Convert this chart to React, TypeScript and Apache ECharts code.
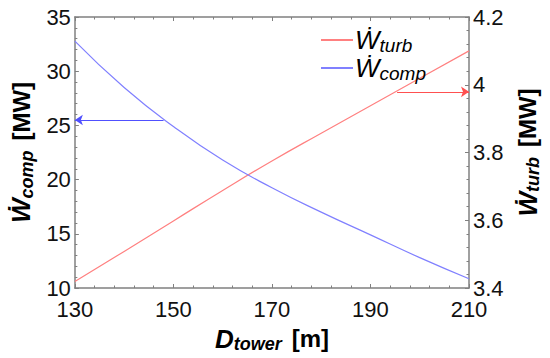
import React, { useEffect, useRef } from "react";
import * as echarts from "echarts";

const xValues = [130, 140, 150, 160, 170, 180, 190, 200, 210];
const wComp = [32.78, 28.5, 24.9, 21.8, 19.25, 17.0, 14.9, 12.8, 10.85];
const wTurb = [3.419, 3.508, 3.598, 3.688, 3.775, 3.857, 3.938, 4.019, 4.1];
const xTicks = { min: 130, max: 210, interval: 20 };
const leftTicks = { min: 10, max: 35, interval: 5 };
const rightTicks = { min: 3.4, max: 4.2, interval: 0.2 };
const compArrow = [[148, 25.5], [130, 25.5]];
const turbArrow = [[195.4, 3.979], [210, 3.979]];

const FONT = "'Liberation Sans', Arial, 'DejaVu Sans', sans-serif";
const AXIS_COLOR = "#808080";

const titleRich = {
  w: { fontSize: 26, fontWeight: "bold", fontStyle: "italic", fontFamily: FONT, color: "#000" },
  s: { fontSize: 18, fontWeight: "bold", fontStyle: "italic", fontFamily: FONT, color: "#000", padding: [11, 0, 0, 0] },
  u: { fontSize: 24, fontWeight: "bold", fontFamily: FONT, color: "#000", padding: [0, 0, 0, 10] },
};

const legendRich = {
  w: { fontSize: 26, fontStyle: "italic", fontFamily: FONT, color: "#000" },
  s: { fontSize: 19, fontStyle: "italic", fontFamily: FONT, color: "#000", padding: [11, 0, 0, 0] },
};

export default function App() {
  const ref = useRef<HTMLDivElement>(null);
  useEffect(() => {
    const chart = echarts.init(ref.current!, null, { renderer: "svg" });
    const axisCommon = {
      axisLine: { show: true, lineStyle: { color: AXIS_COLOR, width: 1.5 } },
      axisTick: { show: true, inside: true, length: 4, lineStyle: { color: AXIS_COLOR } },
      minorTick: { show: true, splitNumber: 5, length: 2.5, lineStyle: { color: AXIS_COLOR } },
      splitLine: { show: false },
      axisLabel: { fontSize: 22, fontFamily: FONT, color: "#111" },
    };
    chart.setOption({
      animation: false,
      grid: { left: 67, right: 72, top: 17, bottom: 65 },
      legend: {
        orient: "vertical",
        left: 316,
        top: 22,
        itemWidth: 32,
        itemHeight: 2,
        itemGap: 0,
        icon: "rect",
        data: ["turb", "comp"],
        formatter: (name: string) => "{w|Ẇ}{s|" + name + "}",
        textStyle: { rich: legendRich, padding: [0, 0, 0, -3] },
      },
      xAxis: [
        {
          type: "value",
          ...xTicks,
          ...axisCommon,
          axisLabel: { ...axisCommon.axisLabel, margin: 10 },
          name: "{w|D}{s|tower}{u|[m]}",
          nameLocation: "middle",
          nameGap: 36,
          nameTextStyle: { rich: titleRich },
        },
        {
          type: "value",
          position: "top",
          ...xTicks,
          ...axisCommon,
          axisLabel: { show: false },
        },
      ],
      yAxis: [
        {
          type: "value",
          ...leftTicks,
          ...axisCommon,
          axisLabel: { ...axisCommon.axisLabel, margin: 4 },
          name: "{w|Ẇ}{s|comp}{u|[MW]}",
          nameLocation: "middle",
          nameRotate: 90,
          nameGap: 34,
          nameTextStyle: { rich: titleRich },
        },
        {
          type: "value",
          position: "right",
          ...rightTicks,
          ...axisCommon,
          axisLabel: {
            ...axisCommon.axisLabel,
            margin: 4,
            formatter: (v: number) => String(Math.round(v * 10) / 10),
          },
          name: "{w|Ẇ}{s|turb}{u|[MW]}",
          nameLocation: "middle",
          nameRotate: 90,
          nameGap: 44,
          nameTextStyle: { rich: titleRich },
        },
      ],
      series: [
        {
          name: "turb",
          type: "line",
          yAxisIndex: 1,
          smooth: true,
          showSymbol: false,
          data: xValues.map((x, i) => [x, wTurb[i]]),
          lineStyle: { color: "#ff8080", width: 1.2 },
          itemStyle: { color: "#ff8080" },
          markLine: {
            silent: true,
            symbol: ["none", "arrow"],
            symbolSize: 8,
            label: { show: false },
            lineStyle: { color: "#ff5050", width: 1.2, type: "solid" },
            data: [[{ coord: turbArrow[0] }, { coord: turbArrow[1] }]],
          },
        },
        {
          name: "comp",
          type: "line",
          smooth: true,
          showSymbol: false,
          data: xValues.map((x, i) => [x, wComp[i]]),
          lineStyle: { color: "#8080ff", width: 1.2 },
          itemStyle: { color: "#8080ff" },
          markLine: {
            silent: true,
            symbol: ["none", "arrow"],
            symbolSize: 8,
            label: { show: false },
            lineStyle: { color: "#5050ff", width: 1.2, type: "solid" },
            data: [[{ coord: compArrow[0] }, { coord: compArrow[1] }]],
          },
        },
      ],
    });
    return () => chart.dispose();
  }, []);
  return (
    <div
      ref={ref}
      style={{ position: "fixed", left: 0, top: 0, width: 550, height: 358, background: "#fff" }}
    />
  );
}
